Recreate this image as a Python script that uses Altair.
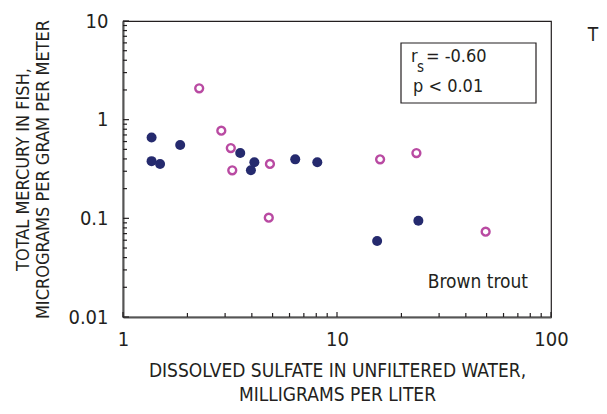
import altair as alt
import pandas as pd

# Data
sulfate_filled = [1.36, 1.36, 1.49, 1.85, 3.53, 3.96, 4.11, 6.38, 8.09, 15.4, 24.0]
mercury_filled = [0.66, 0.38, 0.356, 0.553, 0.459, 0.307, 0.37, 0.396, 0.37, 0.0589, 0.0946]
sulfate_open = [2.27, 2.88, 3.19, 3.24, 4.86, 4.80, 15.9, 23.5, 49.5]
mercury_open = [2.08, 0.774, 0.516, 0.307, 0.356, 0.1016, 0.396, 0.459, 0.0733]

x_major = [1, 10, 100]
x_minor = [2, 3, 4, 5, 6, 7, 8, 9, 20, 30, 40, 50, 60, 70, 80, 90]
y_major = [0.01, 0.1, 1, 10]
y_minor = [0.02, 0.03, 0.04, 0.05, 0.06, 0.07, 0.08, 0.09,
           0.2, 0.3, 0.4, 0.5, 0.6, 0.7, 0.8, 0.9,
           2, 3, 4, 5, 6, 7, 8, 9]

x_title = ["DISSOLVED SULFATE IN UNFILTERED WATER,", "MILLIGRAMS PER LITER"]
y_title = ["TOTAL MERCURY IN FISH,", "MICROGRAMS PER GRAM PER METER"]

FONT = "Liberation Sans Narrow, DejaVu Sans Condensed, Arial Narrow, sans-serif"
NAVY = "#252a6e"
MAGENTA = "#b94aa2"
INK = "#231f20"

W, H = 428, 296

xs = alt.Scale(type="log", domain=[1, 100], nice=False)
ys = alt.Scale(type="log", domain=[0.01, 10], nice=False)

xaxis = alt.Axis(values=x_major, format="~g", title=x_title, labelFlush=False,
                 labelOverlap=False, ticks=False, tickSize=0, grid=False,
                 labelPadding=12, titlePadding=12, titleLineHeight=24,
                 titleFontSize=19)
yaxis = alt.Axis(values=y_major, format="~g", title=y_title,
                 labelOverlap=False, ticks=False, tickSize=0, grid=False,
                 labelPadding=15, titlePadding=15, titleLineHeight=20,
                 titleFontSize=18)

df_f = pd.DataFrame({"sulfate": sulfate_filled, "mercury": mercury_filled})
df_o = pd.DataFrame({"sulfate": sulfate_open, "mercury": mercury_open})

filled = alt.Chart(df_f).mark_circle(size=100, color=NAVY, opacity=1).encode(
    x=alt.X("sulfate:Q", scale=xs, axis=xaxis),
    y=alt.Y("mercury:Q", scale=ys, axis=yaxis),
)
opened = alt.Chart(df_o).mark_point(shape="circle", filled=False, size=62,
                                    strokeWidth=2.4, color=MAGENTA, opacity=1).encode(
    x=alt.X("sulfate:Q", scale=xs),
    y=alt.Y("mercury:Q", scale=ys),
)

ymaj = alt.Chart(pd.DataFrame({"v": y_major})).mark_rule(color=INK, strokeWidth=1.2).encode(
    y=alt.Y("v:Q", scale=ys), x=alt.value(0), x2=alt.value(6))
ymin = alt.Chart(pd.DataFrame({"v": y_minor})).mark_rule(color=INK, strokeWidth=1.2).encode(
    y=alt.Y("v:Q", scale=ys), x=alt.value(0), x2=alt.value(4))
xmaj = alt.Chart(pd.DataFrame({"v": x_major})).mark_rule(color=INK, strokeWidth=1.2).encode(
    x=alt.X("v:Q", scale=xs), y=alt.value(H), y2=alt.value(H - 5))
xmin = alt.Chart(pd.DataFrame({"v": x_minor})).mark_rule(color=INK, strokeWidth=1.2).encode(
    x=alt.X("v:Q", scale=xs), y=alt.value(H), y2=alt.value(H - 4))

box = alt.Chart(pd.DataFrame({"k": [0]})).mark_rect(
    fill="white", stroke=INK, strokeWidth=1.2).encode(
    x=alt.value(278), x2=alt.value(413), y=alt.value(22), y2=alt.value(82))

def label(txt, x, y, size=18, align="left"):
    return alt.Chart(pd.DataFrame({"t": [txt]})).mark_text(
        font=FONT, fontSize=size, color=INK, align=align, baseline="middle").encode(
        text="t:N", x=alt.value(x), y=alt.value(y))

r_txt = label("r", 288, 36)
s_txt = label("s", 294, 46, size=15)
eq_txt = label("= -0.60", 303, 36)
p_txt = label("p < 0.01", 290, 66)
brown = label("Brown trout", 405, 261, size=19, align="right")
t_txt = label("T", 470, 14, size=19, align="center")

chart = alt.layer(ymin, ymaj, xmin, xmaj, filled, opened, box,
                  r_txt, s_txt, eq_txt, p_txt, brown, t_txt).properties(
    width=W, height=H,
    autosize=alt.AutoSizeParams(type="none"),
    padding={"left": 115, "top": 13, "right": 48, "bottom": 89},
).configure(font=FONT).configure_view(
    stroke=INK, strokeWidth=1.2
).configure_axis(
    labelFont=FONT, titleFont=FONT, labelFontSize=20,
    titleFontWeight="normal", labelColor=INK, titleColor=INK,
    domainColor="#555555", domainWidth=2,
)

chart.save("out.html", embed_options={"renderer": "svg", "actions": False})
